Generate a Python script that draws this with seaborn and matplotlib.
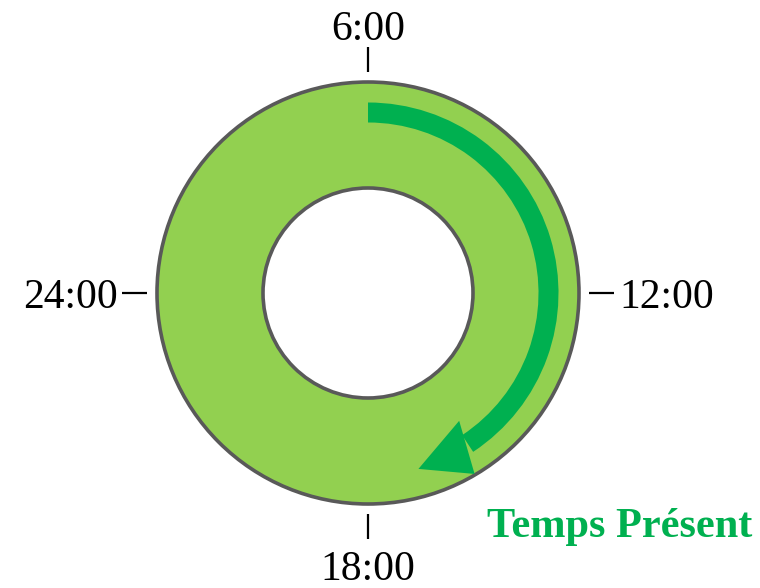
import numpy as np
import matplotlib
matplotlib.use("Agg")
import matplotlib.pyplot as plt
from matplotlib.patches import Wedge, Circle, Polygon
import seaborn as sns

# ---- data ----
hour_labels = ["6:00", "12:00", "18:00", "24:00"]
hour_angles = [90, 0, -90, 180]          # clock positions on the ring (degrees)
arrow_start_angle = 90                   # present time arrow: start (6:00)
arrow_end_angle = -74                    # arrow tip angle (clockwise)
title_label = "Temps Présent"

sns.set_theme(style="white")
plt.rcParams['font.family'] = ['Liberation Serif', 'DejaVu Serif']

RING_GREEN = "#92D050"
ARROW_GREEN = "#00B050"
EDGE = "#595959"

fig = plt.figure(figsize=(7.6, 5.88), dpi=100)
ax = fig.add_axes([0, 0, 1, 1])
cx, cy = 368, 293
ax.set_xlim(-cx, 760 - cx)
ax.set_ylim(-(588 - cy), cy)
ax.set_aspect("equal")
ax.axis("off")

R_out, R_in = 211, 105
ax.add_patch(Circle((0, 0), R_out, facecolor=RING_GREEN, edgecolor=EDGE, lw=2.6, zorder=1))
ax.add_patch(Circle((0, 0), R_in, facecolor="white", edgecolor=EDGE, lw=2.6, zorder=2))

# arrow shaft
r_shaft_out, w_shaft = 190.5, 20
head_base = -56.5
ax.add_patch(Wedge((0, 0), r_shaft_out, head_base, arrow_start_angle, width=w_shaft,
                   facecolor=ARROW_GREEN, edgecolor="none", zorder=3))

def pol(r, a):
    t = np.deg2rad(a)
    return (r * np.cos(t), r * np.sin(t))

head = [pol(157, -54.5), pol(210, -59.5), pol(183, arrow_end_angle)]
ax.add_patch(Polygon(head, closed=True, facecolor=ARROW_GREEN, edgecolor="none", zorder=3))

# ticks and labels
FS = 30
tick_r0, tick_r1 = 221, 246
for lab, ang in zip(hour_labels, hour_angles):
    x0, y0 = pol(tick_r0, ang)
    x1, y1 = pol(tick_r1, ang)
    ax.plot([x0, x1], [y0, y1], color="black", lw=1.6, zorder=4, solid_capstyle="butt")
    if ang == 90:
        ax.text(0, cy - 40, lab, ha="center", va="baseline", fontsize=FS, color="black")
    elif ang == 0:
        ax.text(619 - cx, cy - 308, lab, ha="left", va="baseline", fontsize=FS, color="black")
    elif ang == 180:
        ax.text(118 - cx, cy - 308, lab, ha="right", va="baseline", fontsize=FS, color="black")
    else:
        ax.text(0, cy - 580, lab, ha="center", va="baseline", fontsize=FS, color="black")

ax.text(620 - cx, cy - 537, title_label, ha="center", va="baseline", fontsize=30.5,
        fontweight="bold", color=ARROW_GREEN)

fig.savefig("out.png", dpi=100)
